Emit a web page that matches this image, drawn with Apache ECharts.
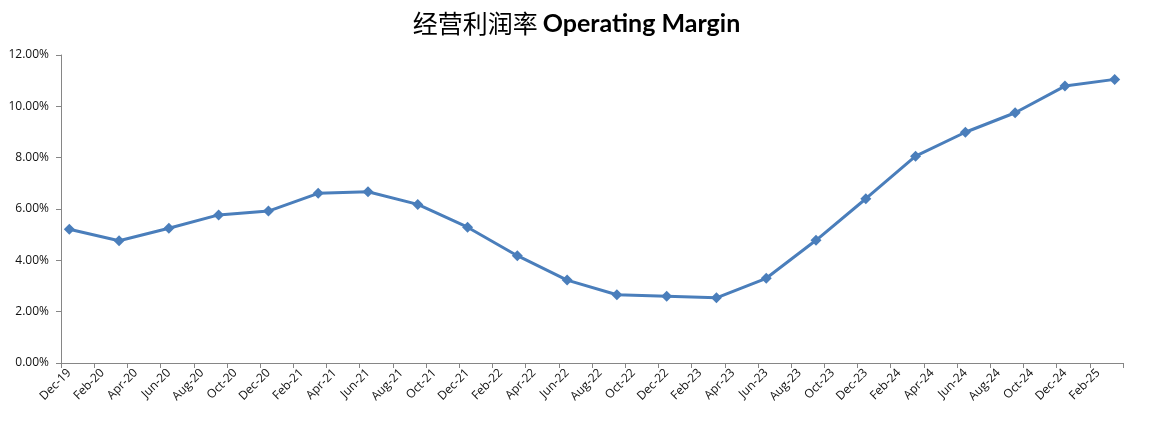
<!DOCTYPE html>
<html>
<head>
<meta charset="utf-8">
<script src="https://cdn.jsdelivr.net/npm/echarts@6/dist/echarts.min.js"></script>
<style>html,body{margin:0;padding:0;background:#fff}#c{width:1153px;height:423px}</style>
</head>
<body>
<div id="c"></div>
<script>
// Monthly axis categories (Dec-19 .. Mar-25); labels shown every 2 months
const monthCategories = (function(){
  const m = ['Jan','Feb','Mar','Apr','May','Jun','Jul','Aug','Sep','Oct','Nov','Dec'];
  const out = ['Dec-19'];
  for (let y = 20; y <= 25; y++) for (let i = 0; i < 12; i++) {
    if (y === 25 && i > 2) break;
    out.push(m[i] + '-' + y);
  }
  return out;
})();
// Quarterly observation dates
const quarters = ['Dec-19','Mar-20','Jun-20','Sep-20','Dec-20','Mar-21','Jun-21','Sep-21','Dec-21','Mar-22','Jun-22','Sep-22','Dec-22','Mar-23','Jun-23','Sep-23','Dec-23','Mar-24','Jun-24','Sep-24','Dec-24','Mar-25'];
// Operating margin (%)
const operatingMargin = [5.21,4.76,5.25,5.77,5.92,6.61,6.67,6.18,5.29,4.18,3.23,2.66,2.60,2.54,3.30,4.78,6.40,8.06,8.99,9.75,10.79,11.05];
const yTicks = [0,2,4,6,8,10,12];

const chart = echarts.init(document.getElementById('c'));
chart.setOption({
  animation: false,
  backgroundColor: '#fff',
  title: {
    text: '{cn|经营利润率} {en|Operating Margin}',
    left: 'center', top: 6,
    textStyle: {
      rich: {
        cn: { fontFamily: 'Noto Sans CJK SC', fontSize: 25, fontWeight: 'normal', color: '#000' },
        en: { fontFamily: 'Lato', fontSize: 25, fontWeight: 'bold', color: '#000' }
      }
    }
  },
  grid: { left: 61, right: 30, top: 55, bottom: 60, containLabel: false },
  xAxis: {
    type: 'category',
    data: monthCategories,
    boundaryGap: true,
    axisLine: { lineStyle: { color: '#868686', width: 1 } },
    axisTick: { show: true, interval: 1, alignWithLabel: false, length: 5, lineStyle: { color: '#868686' } },
    axisLabel: { interval: 1, rotate: 45, margin: 8, fontSize: 12, fontFamily: 'Open Sans', color: '#111' },
    splitLine: { show: false }
  },
  yAxis: {
    type: 'value',
    min: yTicks[0], max: yTicks[yTicks.length-1], interval: 2,
    axisLine: { show: true, lineStyle: { color: '#868686', width: 1 } },
    axisTick: { show: true, inside: false, length: 5, lineStyle: { color: '#868686' } },
    axisLabel: { margin: 12, fontSize: 12, fontFamily: 'Open Sans', color: '#111', formatter: v => v.toFixed(2) + '%' },
    splitLine: { show: false }
  },
  series: [{
    type: 'line',
    data: quarters.map((q, i) => [q, operatingMargin[i]]),
    symbol: 'diamond',
    symbolSize: 11,
    lineStyle: { color: '#4A7EBB', width: 3 },
    itemStyle: { color: '#4A7EBB' }
  }]
});
</script>
</body>
</html>
